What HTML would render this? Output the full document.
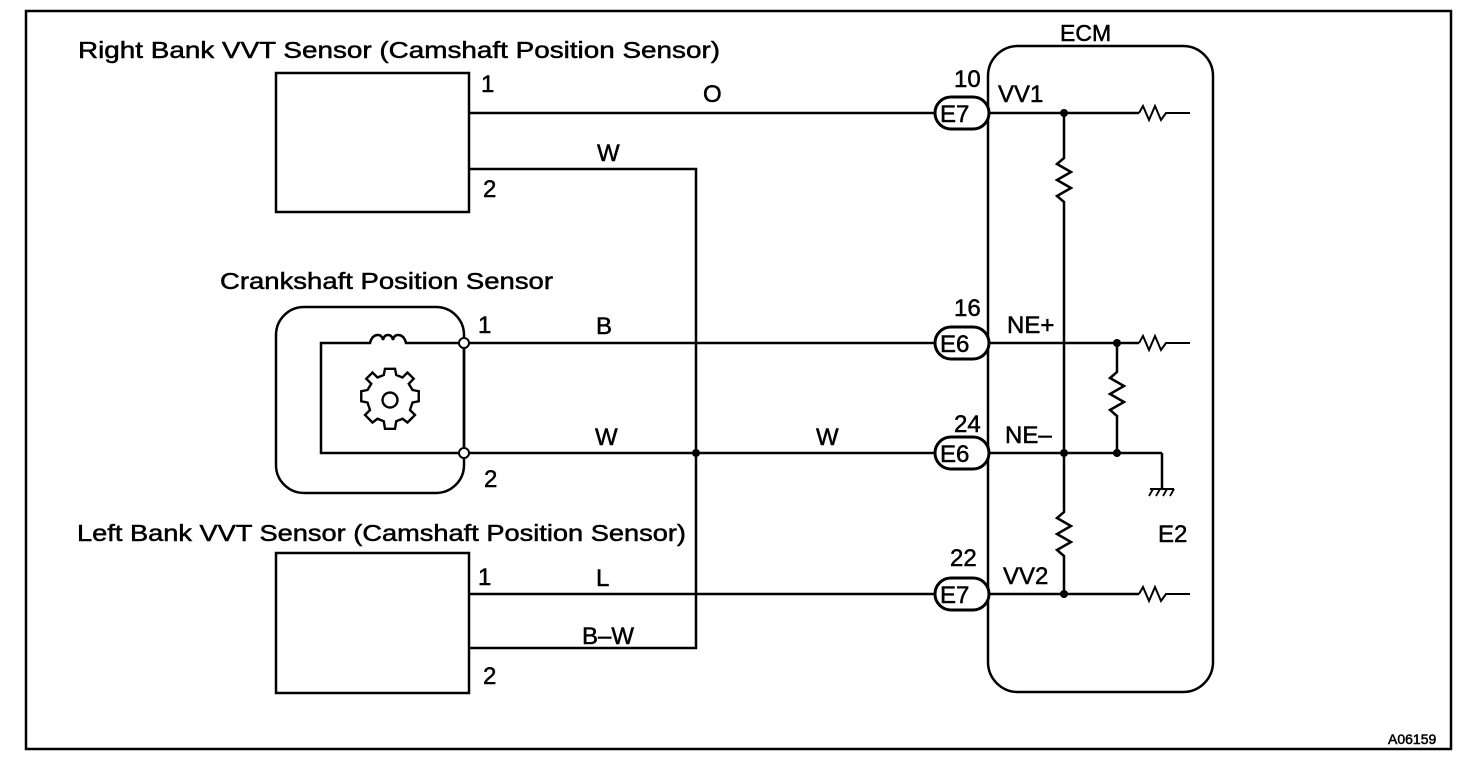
<!DOCTYPE html>
<html><head><meta charset="utf-8"><style>
html,body{margin:0;padding:0;background:#fff;}
svg{display:block;}
text{font-family:"Liberation Sans",Arial,sans-serif;fill:#000;stroke:#000;stroke-width:0.5;}
</style></head><body>
<svg width="1472" height="760" viewBox="0 0 1472 760" xmlns="http://www.w3.org/2000/svg">
<g fill="none" stroke="#000" stroke-width="2.5">
<rect x="26" y="11" width="1425" height="738"/>
<rect x="276" y="73" width="193" height="139"/>
<line x1="469" y1="113" x2="935" y2="113"/>
<polyline points="469,169 696,169 696,648 469,648"/>
<rect x="276" y="307" width="188" height="186" rx="28"/>
<path d="M464,343 L406,343 Q404,335 398,335 Q394,335 393,340 Q392,335 388,335 Q384,335 383,340 Q382,335 378,335 Q372,335 370,343 L321,343 L321,453 L464,453"/>
<line x1="464" y1="343" x2="464" y2="453"/>
<line x1="469" y1="343" x2="935" y2="343"/>
<line x1="469" y1="453" x2="935" y2="453"/>
<rect x="276" y="553" width="193" height="140"/>
<line x1="469" y1="594" x2="935" y2="594"/>
<rect x="988" y="46" width="225" height="646" rx="30"/>
<rect x="935" y="97" width="54" height="32" rx="16" fill="#fff" stroke-width="3"/>
<rect x="935" y="327" width="54" height="32" rx="16" fill="#fff" stroke-width="3"/>
<rect x="935" y="437" width="54" height="32" rx="16" fill="#fff" stroke-width="3"/>
<rect x="935" y="578" width="54" height="32" rx="16" fill="#fff" stroke-width="3"/>
<line x1="989" y1="113" x2="1139" y2="113"/>
<polyline points="1139,113 1143,106 1149,120 1155,106 1161,120 1166,113 1190,113" stroke-width="2"/>
<line x1="989" y1="343" x2="1139" y2="343"/>
<polyline points="1139,343 1143,336 1149,350 1155,336 1161,350 1166,343 1190,343" stroke-width="2"/>
<line x1="989" y1="453" x2="1162" y2="453"/>
<line x1="1162" y1="453" x2="1162" y2="488"/>
<line x1="989" y1="594" x2="1139" y2="594"/>
<polyline points="1139,594 1143,587 1149,601 1155,587 1161,601 1166,594 1190,594" stroke-width="2"/>
<polyline points="1064,113 1064,158 1057,164 1071,172 1057,180 1071,188 1057,196 1064,202 1064,512 1057,518 1071,526 1057,534 1071,542 1057,550 1064,556 1064,594"/>
<polyline points="1117,343 1117,372 1110,378 1124,386 1110,394 1124,402 1110,410 1117,416 1117,453"/>
<line x1="1150" y1="489" x2="1174" y2="489" stroke-width="2"/>
<line x1="1153" y1="489" x2="1149" y2="496" stroke-width="1.8"/>
<line x1="1160" y1="489" x2="1156" y2="496" stroke-width="1.8"/>
<line x1="1167" y1="489" x2="1163" y2="496" stroke-width="1.8"/>
<line x1="1174" y1="489" x2="1170" y2="496" stroke-width="1.8"/>
<g transform="translate(390,400) scale(1.25)" stroke-width="1.9">
<circle r="6"/>
<path d="M0,-25 L4,-25 L5,-20 L10,-18 L14,-22 L19,-17 L15,-13 L18,-8 L23,-7 L23,1 L18,2 L16,8 L20,12 L14,18 L10,15 L5,17 L4,23 L-4,23 L-5,17 L-10,15 L-14,18 L-20,12 L-16,8 L-18,2 L-23,1 L-23,-7 L-18,-8 L-15,-13 L-19,-17 L-14,-22 L-10,-18 L-5,-20 L-4,-25 Z"/>
</g>
<circle cx="464" cy="343" r="5" fill="#fff" stroke-width="2"/>
<circle cx="464" cy="453" r="5" fill="#fff" stroke-width="2"/>
</g>
<g fill="#000">
<circle cx="696" cy="453" r="4"/>
<circle cx="1064" cy="113" r="4"/>
<circle cx="1117" cy="343" r="4"/>
<circle cx="1064" cy="453" r="4"/>
<circle cx="1117" cy="453" r="4"/>
<circle cx="1064" cy="594" r="4"/>
</g>
<g font-size="23">
<text x="78" y="58" textLength="642" lengthAdjust="spacingAndGlyphs">Right Bank VVT Sensor (Camshaft Position Sensor)</text>
<text x="220" y="289" textLength="333" lengthAdjust="spacingAndGlyphs">Crankshaft Position Sensor</text>
<text x="77" y="541" textLength="609" lengthAdjust="spacingAndGlyphs">Left Bank VVT Sensor (Camshaft Position Sensor)</text>
<text x="1060" y="41">ECM</text>
</g>
<g font-size="24">
<text x="481" y="92">1</text><text x="483" y="197">2</text>
<text x="478" y="333">1</text><text x="484" y="487">2</text>
<text x="478" y="585">1</text><text x="483" y="684">2</text>
<text x="703" y="102">O</text>
<text x="597" y="161">W</text>
<text x="596" y="334">B</text>
<text x="595" y="445">W</text>
<text x="816" y="445">W</text>
<text x="596" y="586">L</text>
<text x="582" y="644">B–W</text>
<text x="954" y="87">10</text>
<text x="954" y="316">16</text>
<text x="954" y="432">24</text>
<text x="950" y="566">22</text>
<text x="940" y="122">E7</text>
<text x="940" y="352">E6</text>
<text x="940" y="462">E6</text>
<text x="940" y="603">E7</text>
<text x="998" y="102">VV1</text>
<text x="1007" y="333">NE+</text>
<text x="1005" y="443">NE–</text>
<text x="1003" y="584">VV2</text>
<text x="1158" y="542">E2</text>
</g>
<text x="1388" y="744" font-size="14">A06159</text>
</svg>
</body></html>
